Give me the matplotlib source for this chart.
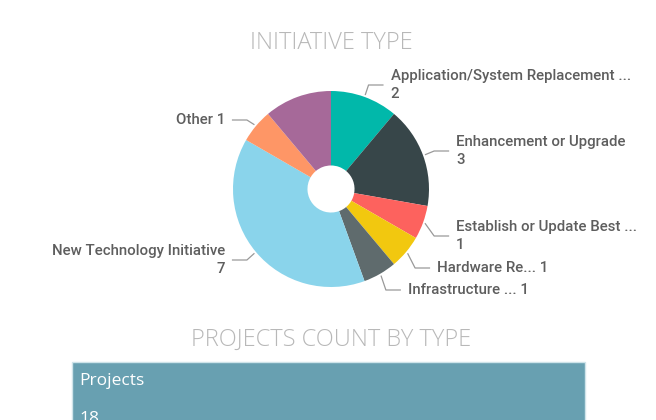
import numpy as np
import matplotlib
matplotlib.use('Agg')
import matplotlib.pyplot as plt

# data
types = ['Application/System Replacement ...', 'Enhancement or Upgrade',
         'Establish or Update Best ...', 'Hardware Re...', 'Infrastructure ...',
         'New Technology Initiative', 'Other', '']
counts = [2, 3, 1, 1, 1, 7, 1, 2]
colors = ['#01B8AA', '#374649', '#FD625E', '#F2C80F', '#5F6B6D',
          '#8AD4EB', '#FE9666', '#A66999']
# label layout: line y (pixels from top), two-line label?
label_y = [85, 151, 236, 268, 290, 260, 120, None]
two_line = [True, True, True, False, False, True, False, False]
total_projects = sum(counts)

W, H = 656, 420
cx, cy, R = 331, 189, 98

fig = plt.figure(figsize=(W / 100, H / 100), dpi=100)
ax = fig.add_axes([0, 0, 1, 1])

def py(p):
    return (cy - p) / R

def px(p):
    return (p - cx) / R

wedges, _ = ax.pie(counts, colors=colors, startangle=90, counterclock=False,
                   radius=1.0, wedgeprops=dict(width=0.76, linewidth=0))
ax.set_xlim(-cx / R, (W - cx) / R)
ax.set_ylim((cy - H) / R, cy / R)
ax.set_aspect('equal')
ax.axis('off')

lab_font = dict(family=['Roboto', 'DejaVu Sans'], fontsize=10.8,
                fontweight='medium', color='#5e5e5e')
for w, name, n, ly, tl in zip(wedges, types, counts, label_y, two_line):
    if ly is None:
        continue
    ang = np.deg2rad((w.theta1 + w.theta2) / 2)
    x0, y0 = 1.02 * np.cos(ang), 1.02 * np.sin(ang)
    x1 = 1.12 * np.cos(ang)
    y1 = py(ly)
    side = 1 if np.cos(ang) > 0 else -1
    x2 = x1 + side * 15 / R
    ax.plot([x0, x1, x2], [y0, y1, y1], color='#999999', lw=0.9,
            solid_capstyle='butt')
    txt = f'{name}\n{n}' if tl else f'{name} {n}'
    ax.text(x2 + side * 7 / R, y1, txt, ha='left' if side > 0 else 'right',
            va='center', linespacing=1.3, multialignment='left' if side > 0 else 'right',
            **lab_font)

title_font = dict(family=['Open Sans', 'DejaVu Sans'], color='#b8b8b8',
                  fontweight='light')
ax.text(0, py(43), 'INITIATIVE TYPE', ha='center', va='center',
        fontsize=17, **title_font)
ax.text(0, py(340), 'PROJECTS COUNT BY TYPE', ha='center', va='center',
        fontsize=17, **title_font)

# card with project count
box = plt.Rectangle((px(72), py(425)), (585 - 72) / R, (425 - 362) / R,
                    facecolor='#68a0b1', edgecolor='#cfe4ea', lw=1)
ax.add_patch(box)
ax.text(px(79), py(381), 'Projects', ha='left', va='center', color='white',
        fontsize=12.5, family=['Open Sans', 'DejaVu Sans'])
ax.text(px(79), py(411), str(total_projects), ha='left', va='top',
        color='white', fontsize=12.5, family=['Open Sans', 'DejaVu Sans'])

fig.savefig('out.png', dpi=100, facecolor='white')
